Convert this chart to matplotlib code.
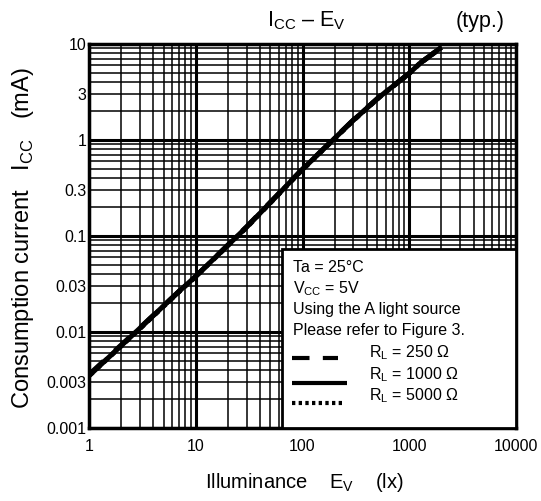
import matplotlib
matplotlib.use("Agg")
import matplotlib.pyplot as plt
from matplotlib.ticker import FixedLocator, LogLocator, NullFormatter

plt.rcParams['font.family'] = ['Liberation Sans', 'DejaVu Sans']
plt.rcParams['mathtext.fontset'] = 'custom'
plt.rcParams['mathtext.rm'] = 'Liberation Sans'

# Data
illum = [1, 2.88, 7.1, 10, 30, 95, 300, 530, 1000, 1260, 2000]
icc_250 = [0.0036, 0.0106, 0.027, 0.038, 0.125, 0.47, 1.62, 2.85, 4.95, 6.3, 9.2]
icc_1000 = [0.0035, 0.0105, 0.027, 0.038, 0.124, 0.468, 1.61, 2.83, 4.95, 6.3, 9.25]
icc_5000 = [0.0035, 0.0104, 0.0268, 0.0378, 0.123, 0.465, 1.60, 2.82, 4.93, 6.28, 9.2]

xticks = [1, 10, 100, 1000, 10000]
xtick_labels = ["1", "10", "100", "1000", "10000"]
yticks = [0.001, 0.003, 0.01, 0.03, 0.1, 0.3, 1, 3, 10]
ytick_labels = ["0.001", "0.003", "0.01", "0.03", "0.1", "0.3", "1", "3", "10"]

legend_labels = [r"R$_\mathregular{L}$ = 250 Ω", r"R$_\mathregular{L}$ = 1000 Ω", r"R$_\mathregular{L}$ = 5000 Ω"]
conditions = ["Ta = 25°C", r"V$_\mathregular{CC}$ = 5V", "Using the A light source", "Please refer to Figure 3."]

fig = plt.figure(figsize=(5.41, 5.01), dpi=100)
ax = fig.add_axes([0.1645, 0.1457, 0.7893, 0.7665])
ax.set_xscale('log')
ax.set_yscale('log')
ax.set_xlim(1, 10000)
ax.set_ylim(0.001, 10)

ax.xaxis.set_major_locator(FixedLocator(xticks))
ax.set_xticklabels(xtick_labels)
ax.set_yticks(yticks)
ax.set_yticklabels(ytick_labels)
ax.xaxis.set_minor_locator(LogLocator(base=10, subs=range(2, 10)))
ax.yaxis.set_minor_locator(LogLocator(base=10, subs=range(2, 10)))
ax.xaxis.set_minor_formatter(NullFormatter())
ax.yaxis.set_minor_formatter(NullFormatter())

# grid: minor lines everywhere, decades thicker
for d in range(0, 4):
    for m in range(2, 10):
        ax.axvline(m * 10 ** d, color='black', lw=1.1, zorder=1)
for d in range(-3, 1):
    for m in range(2, 10):
        ax.axhline(m * 10 ** d, color='black', lw=1.1, zorder=1)
for v in xticks:
    ax.axvline(v, color='black', lw=2.2, zorder=1)
for v in [0.001, 0.01, 0.1, 1, 10]:
    ax.axhline(v, color='black', lw=2.2, zorder=1)

ax.tick_params(which='both', length=0, labelsize=11.5)
ax.tick_params(axis='x', pad=8)
ax.tick_params(axis='y', pad=2)
for s in ax.spines.values():
    s.set_linewidth(2.5)

ax.plot(illum, icc_1000, color='black', lw=3.6, solid_capstyle='butt', zorder=3)
ax.plot(illum, icc_250, color='black', lw=3.6, ls=(0, (4, 3)), zorder=3)
ax.plot(illum, icc_5000, color='black', lw=3.6, ls=(0, (1, 1)), zorder=3)

# legend box
bx0, by0 = (282 - 89) / 427, 0.0
bw, bh = (516 - 282) / 427, (428 - 249) / 384
rect = plt.Rectangle((bx0, by0), bw, bh, transform=ax.transAxes, facecolor='white',
                     edgecolor='black', lw=2.0, zorder=5, clip_on=False)
ax.add_patch(rect)

def fx(px):
    return px / 541
def fy(py):
    return 1 - py / 501

for i, t in enumerate(conditions):
    fig.text(fx(293), fy(268 + i * 20.8), t, fontsize=11.5, va='center', ha='left', zorder=10)

styles = [(0, (4.2, 3.2)), '-', (0, (0.8, 0.8))]
ends = [338, 347, 344]
line_y = [358, 383, 403]
text_y = [353, 375, 396]
for lab, st, xe, ly, ty in zip(legend_labels, styles, ends, line_y, text_y):
    fig.add_artist(plt.Line2D([fx(292), fx(xe)], [fy(ly), fy(ly)], color='black', lw=3.0,
                              ls=st, transform=fig.transFigure, solid_capstyle='butt',
                              dash_capstyle='butt', zorder=10))
    fig.text(fx(369), fy(ty), lab, fontsize=11.5, va='center', ha='left', zorder=10)

fig.text(fx(306), fy(21), r"I$_\mathregular{CC}$ – E$_\mathregular{V}$", fontsize=15.5, ha='center', va='center')
fig.text(fx(505), fy(21), "(typ.)", fontsize=15.5, ha='right', va='center')
fig.text(fx(23), fy(238), r"Consumption current   I$_\mathregular{CC}$   (mA)", fontsize=17,
         rotation=90, ha='center', va='center')
fig.text(fx(304), fy(483), r"Illuminance    E$_\mathregular{V}$    (lx)", fontsize=14.5,
         ha='center', va='center')

fig.savefig("out.png", dpi=100)
